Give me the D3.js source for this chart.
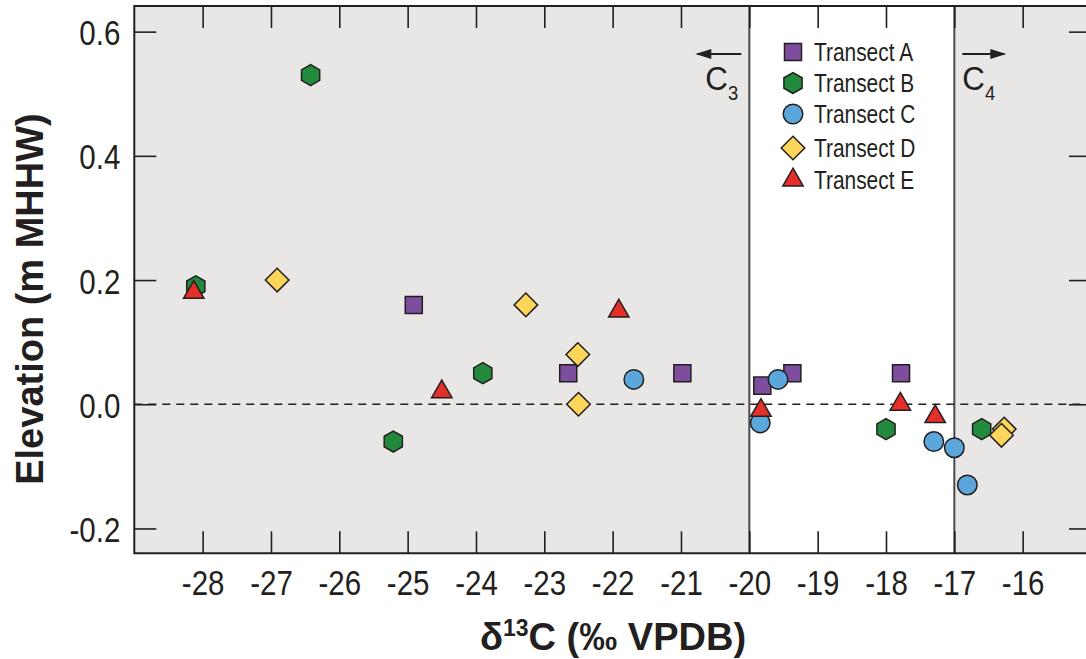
<!DOCTYPE html>
<html>
<head>
<meta charset="utf-8">
<script src="https://cdn.jsdelivr.net/npm/d3@7"></script>
<style>
  html, body { margin: 0; padding: 0; background: #fff; }
  svg { display: block; }
  .narrow { font-family: "Liberation Sans", Arial, sans-serif; }
  .bold { font-family: "Liberation Sans", Arial, sans-serif; font-weight: bold; }
</style>
</head>
<body>
<svg id="chart" width="1086" height="659"></svg>
<script>
// δ13C (x) and elevation (y) per transect
const transectA_x = [-24.91, -22.65, -20.98, -19.81, -19.37, -17.78];
const transectA_y = [0.16, 0.05, 0.05, 0.03, 0.05, 0.05];
const transectB_x = [-28.10, -26.42, -25.21, -23.90, -18.00, -16.60];
const transectB_y = [0.19, 0.53, -0.06, 0.05, -0.04, -0.04];
const transectC_x = [-21.69, -19.84, -19.58, -17.30, -17.00, -16.81];
const transectC_y = [0.04, -0.03, 0.04, -0.06, -0.07, -0.13];
const transectD_x = [-26.91, -23.27, -22.51, -22.50, -16.27, -16.31];
const transectD_y = [0.20, 0.16, 0.08, 0.00, -0.04, -0.05];
const transectE_x = [-28.13, -24.50, -21.91, -19.83, -17.79, -17.28];
const transectE_y = [0.18, 0.02, 0.15, -0.01, 0.00, -0.02];

const seriesNames = ["Transect A", "Transect B", "Transect C", "Transect D", "Transect E"];
const xTicks = [-28, -27, -26, -25, -24, -23, -22, -21, -20, -19, -18, -17, -16];
const yTicks = [-0.2, 0.0, 0.2, 0.4, 0.6];
const c3c4Bounds = [-20, -17];

const colors = ["#7e4e9e", "#218a3d", "#5ba7db", "#fcd55a", "#e5302a"];
const shapes = ["square", "hexagon", "circle", "diamond", "triangle"];

const series = [
  [transectA_x, transectA_y], [transectB_x, transectB_y], [transectC_x, transectC_y],
  [transectD_x, transectD_y], [transectE_x, transectE_y]
].map(([xs, ys], i) => ({
  name: seriesNames[i], color: colors[i], shape: shapes[i],
  points: xs.map((x, j) => ({ x, y: ys[j] }))
}));

const svg = d3.select("#chart");
const plot = { left: 134.3, right: 1091, top: 6, bottom: 553.3 };

const x = d3.scaleLinear().domain([-29, -15]).range([plot.left, plot.right]);
const y = d3.scaleLinear().domain([-0.24, 0.6413]).range([plot.bottom, plot.top]);

const ink = "#231f20";
const condense = 0.82; // horizontal squeeze for the condensed label face

// background: grey C3 / C4 zones with a white transition band
svg.append("rect")
  .attr("x", plot.left).attr("y", plot.top)
  .attr("width", plot.right - plot.left).attr("height", plot.bottom - plot.top)
  .attr("fill", "#e8e7e6");
svg.append("rect")
  .attr("x", x(c3c4Bounds[0])).attr("y", plot.top)
  .attr("width", x(c3c4Bounds[1]) - x(c3c4Bounds[0])).attr("height", plot.bottom - plot.top)
  .attr("fill", "#ffffff");
c3c4Bounds.forEach(v => {
  svg.append("line")
    .attr("x1", x(v)).attr("x2", x(v))
    .attr("y1", plot.top).attr("y2", plot.bottom)
    .attr("stroke", "#4a4a4a").attr("stroke-width", 2);
});

// zero-elevation reference line
svg.append("line")
  .attr("x1", plot.left).attr("x2", plot.right)
  .attr("y1", y(0)).attr("y2", y(0))
  .attr("stroke", ink).attr("stroke-width", 1.6)
  .attr("stroke-dasharray", "8,6");

// axes with inward ticks on all four sides
const tickLen = 22;
const fmtY = d => d3.format(".1f")(d).replace("−", "-");
const fmtX = d => String(d);

const axB = svg.append("g").attr("transform", `translate(0,${plot.bottom})`)
  .call(d3.axisBottom(x).tickValues(xTicks).tickSize(-tickLen).tickPadding(tickLen + 20).tickFormat(fmtX));
const axT = svg.append("g").attr("transform", `translate(0,${plot.top})`)
  .call(d3.axisTop(x).tickValues(xTicks).tickSize(-tickLen).tickFormat(""));
const axL = svg.append("g").attr("transform", `translate(${plot.left},0)`)
  .call(d3.axisLeft(y).tickValues(yTicks).tickSize(-tickLen).tickPadding(14).tickFormat(fmtY));
const axR = svg.append("g").attr("transform", `translate(${plot.right},0)`)
  .call(d3.axisRight(y).tickValues(yTicks).tickSize(-tickLen).tickFormat(""));

[axB, axT, axL, axR].forEach(g => {
  g.select(".domain").remove();
  g.selectAll(".tick line").attr("stroke", ink).attr("stroke-width", 1.6);
  g.selectAll(".tick text").attr("class", "narrow").attr("fill", ink)
    .style("font-size", "36px")
    .attr("transform", `scale(${condense},1)`);
});
axB.selectAll(".tick text").attr("dy", "0");
axL.selectAll(".tick text").attr("dy", "0.36em").attr("x", -14 / condense);

// frame
svg.append("path")
  .attr("d", `M${plot.right},${plot.top}H${plot.left}V${plot.bottom}H${plot.right}`)
  .attr("fill", "none").attr("stroke", ink).attr("stroke-width", 2);

// marker shapes
function hexagonPath(r) {
  const pts = d3.range(6).map(k => {
    const a = Math.PI / 2 + k * Math.PI / 3;
    return [r * Math.cos(a), r * Math.sin(a)];
  });
  return "M" + pts.map(p => p.join(",")).join("L") + "Z";
}
function diamondPath(r) {
  return `M0,${-r}L${r},0L0,${r}L${-r},0Z`;
}
function markerPath(shape) {
  switch (shape) {
    case "square": return d3.symbol(d3.symbolSquare, 290)();
    case "circle": return d3.symbol(d3.symbolCircle, 300)();
    case "triangle": return d3.symbol(d3.symbolTriangle, 180)();
    case "hexagon": return hexagonPath(10.5);
    case "diamond": return diamondPath(11.8);
  }
}

// data points
series.forEach(s => {
  svg.append("g").selectAll("path")
    .data(s.points)
    .join("path")
    .attr("d", markerPath(s.shape))
    .attr("transform", d => `translate(${x(d.x)},${y(d.y)})`)
    .attr("fill", s.color)
    .attr("stroke", ink).attr("stroke-width", 1.5)
    .attr("stroke-linejoin", "miter");
});

// legend
const legend = svg.append("g").attr("transform", "translate(793,0)");
const legendRows = [52, 83, 114, 148, 180];
series.forEach((s, i) => {
  legend.append("path")
    .attr("d", markerPath(s.shape))
    .attr("transform", `translate(0,${legendRows[i]})`)
    .attr("fill", s.color).attr("stroke", ink).attr("stroke-width", 1.5);
  legend.append("text")
    .attr("class", "narrow")
    .attr("transform", `translate(21,${legendRows[i]}) scale(${condense},1)`)
    .attr("dy", "0.35em")
    .attr("fill", ink).style("font-size", "25.5px")
    .text(s.name);
});

// C3 / C4 direction annotations
const arrowY = 54;
function arrow(x1, x2) {
  svg.append("line").attr("x1", x1).attr("x2", x2)
    .attr("y1", arrowY).attr("y2", arrowY)
    .attr("stroke", ink).attr("stroke-width", 2.2);
  const dir = Math.sign(x2 - x1);
  svg.append("path")
    .attr("d", `M${x2 + dir * 2},${arrowY}L${x2 - dir * 14},${arrowY - 5}L${x2 - dir * 14},${arrowY + 5}Z`)
    .attr("fill", ink);
}
arrow(x(c3c4Bounds[0]) - 8, x(c3c4Bounds[0]) - 52);
arrow(x(c3c4Bounds[1]) + 8, x(c3c4Bounds[1]) + 50);

function pathwayLabel(xLeft, sub) {
  const t = svg.append("text").attr("class", "narrow")
    .attr("transform", `translate(${xLeft},90) scale(0.92,1)`)
    .attr("fill", ink).style("font-size", "34px");
  t.append("tspan").text("C");
  t.append("tspan").attr("dy", 10).style("font-size", "20px").text(sub);
}
pathwayLabel(x(c3c4Bounds[0]) - 44, "3");
pathwayLabel(x(c3c4Bounds[1]) + 8, "4");

// axis titles
const xTitle = svg.append("text").attr("class", "bold")
  .attr("x", 613).attr("y", 650).attr("text-anchor", "middle")
  .attr("fill", ink).style("font-size", "38px");
xTitle.append("tspan").text("δ");
xTitle.append("tspan").attr("dy", -14).style("font-size", "23px").text("13");
xTitle.append("tspan").attr("dy", 14).text("C (‰ VPDB)");

svg.append("text").attr("class", "bold")
  .attr("transform", "translate(43,299) rotate(-90)")
  .attr("text-anchor", "middle")
  .attr("fill", ink).style("font-size", "38px")
  .text("Elevation (m MHHW)");
</script>
</body>
</html>
